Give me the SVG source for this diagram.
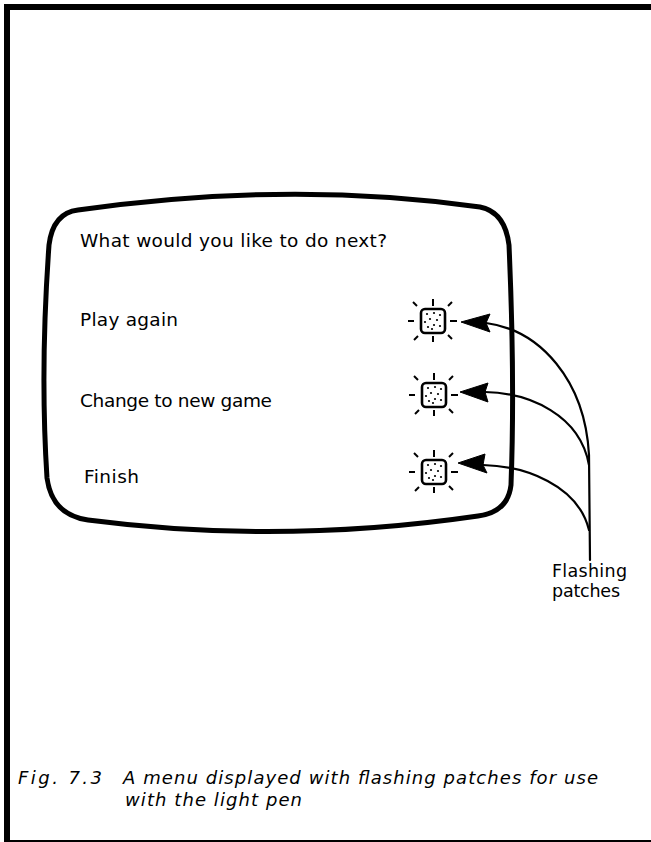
<svg xmlns="http://www.w3.org/2000/svg" width="651" height="842" viewBox="0 0 651 842">
<style>
.t{font-family:"DejaVu Sans","Liberation Sans",Arial,sans-serif;font-size:18.5px;fill:#000}
.lb{font-family:"DejaVu Sans","Liberation Sans",Arial,sans-serif;font-size:17.5px;fill:#000}
.cap{font-family:"DejaVu Sans","Liberation Sans",Arial,sans-serif;font-size:18px;font-style:italic;fill:#000}
.con{fill:none;stroke:#000;stroke-width:2.2;stroke-linecap:round}
.ah{fill:#000;stroke:#000;stroke-width:1;stroke-linejoin:round}
.ray{stroke:#000;stroke-width:2;stroke-linecap:butt}
</style>
<defs>
<g id="patch">
<rect x="-12" y="-12" width="24" height="24" rx="4" fill="#fff" stroke="#000" stroke-width="2.6"/>
<g fill="#000">
<circle cx="-6" cy="-7" r="1.1"/><circle cx="1" cy="-8" r="1.1"/><circle cx="7" cy="-6" r="1.1"/>
<circle cx="-3" cy="-2" r="1.1"/><circle cx="4" cy="-1" r="1.1"/><circle cx="-8" cy="1" r="1.1"/>
<circle cx="-5" cy="6" r="1.1"/><circle cx="1" cy="4" r="1.1"/><circle cx="7" cy="5" r="1.1"/>
<circle cx="-1" cy="8" r="1.1"/>
</g>
<line class="ray" x1="0" y1="-22" x2="0" y2="-15"/>
<line class="ray" x1="0" y1="15" x2="0" y2="21"/>
<line class="ray" x1="-25" y1="0" x2="-19" y2="0"/>
<line class="ray" x1="17" y1="0" x2="24" y2="0"/>
<line class="ray" x1="-20" y1="-19" x2="-16" y2="-15"/>
<line class="ray" x1="15" y1="-15" x2="19" y2="-19"/>
<line class="ray" x1="-19" y1="19" x2="-15" y2="15"/>
<line class="ray" x1="15" y1="14" x2="19" y2="18"/>
</g>
</defs>
<rect width="651" height="842" fill="#fff"/>
<g id="frame" fill="#000">
<rect x="4" y="4" width="647" height="6"/>
<rect x="4" y="4" width="6" height="838"/>
<rect x="4" y="840" width="647" height="2"/>
</g>
<g id="screen">
<path d="M78,210 Q290,180 480,207 Q505,212 509,245 Q515,380 511,485 Q508,512 478,516 Q280,545 88,520 Q52,515 47,478 Q40,370 49,245 Q53,213 78,210 Z" fill="none" stroke="#000" stroke-width="5" stroke-linejoin="round"/>
<text class="t" x="80" y="247" textLength="307" lengthAdjust="spacing">What would you like to do next?</text>
</g>
<g id="item-play">
<text class="t" x="80" y="326" textLength="98" lengthAdjust="spacing">Play again</text>
<use href="#patch" x="433" y="321"/>
</g>
<g id="item-change">
<text class="t" x="80" y="407" textLength="192" lengthAdjust="spacing">Change to new game</text>
<use href="#patch" x="434" y="395"/>
</g>
<g id="item-finish">
<text class="t" x="84" y="483" textLength="55" lengthAdjust="spacing">Finish</text>
<use href="#patch" x="434" y="472"/>
</g>
<g id="label">
<text class="lb" x="552" y="577" textLength="75" lengthAdjust="spacing">Flashing</text>
<text class="lb" x="552" y="597" textLength="68" lengthAdjust="spacing">patches</text>
</g>
<g id="connectors">
<path class="con" d="M486,323 C540,330 585,380 589,455 L590,560"/>
<path class="con" d="M485,392 C530,393 580,415 589,465"/>
<path class="con" d="M483,465 C525,466 578,485 589,530"/>
<polygon class="ah" points="461,322 490,314 486,323 490,332"/>
<polygon class="ah" points="460,392 488,383 485,392 488,402"/>
<polygon class="ah" points="458,463 485,454 483,465 487,473"/>
</g>
<g id="caption">
<text class="cap" x="18" y="784" textLength="84" lengthAdjust="spacing">Fig. 7.3</text>
<text class="cap" x="123" y="784" textLength="475" lengthAdjust="spacing">A menu displayed with flashing patches for use</text>
<text class="cap" x="125" y="806" textLength="177" lengthAdjust="spacing">with the light pen</text>
</g>
</svg>
